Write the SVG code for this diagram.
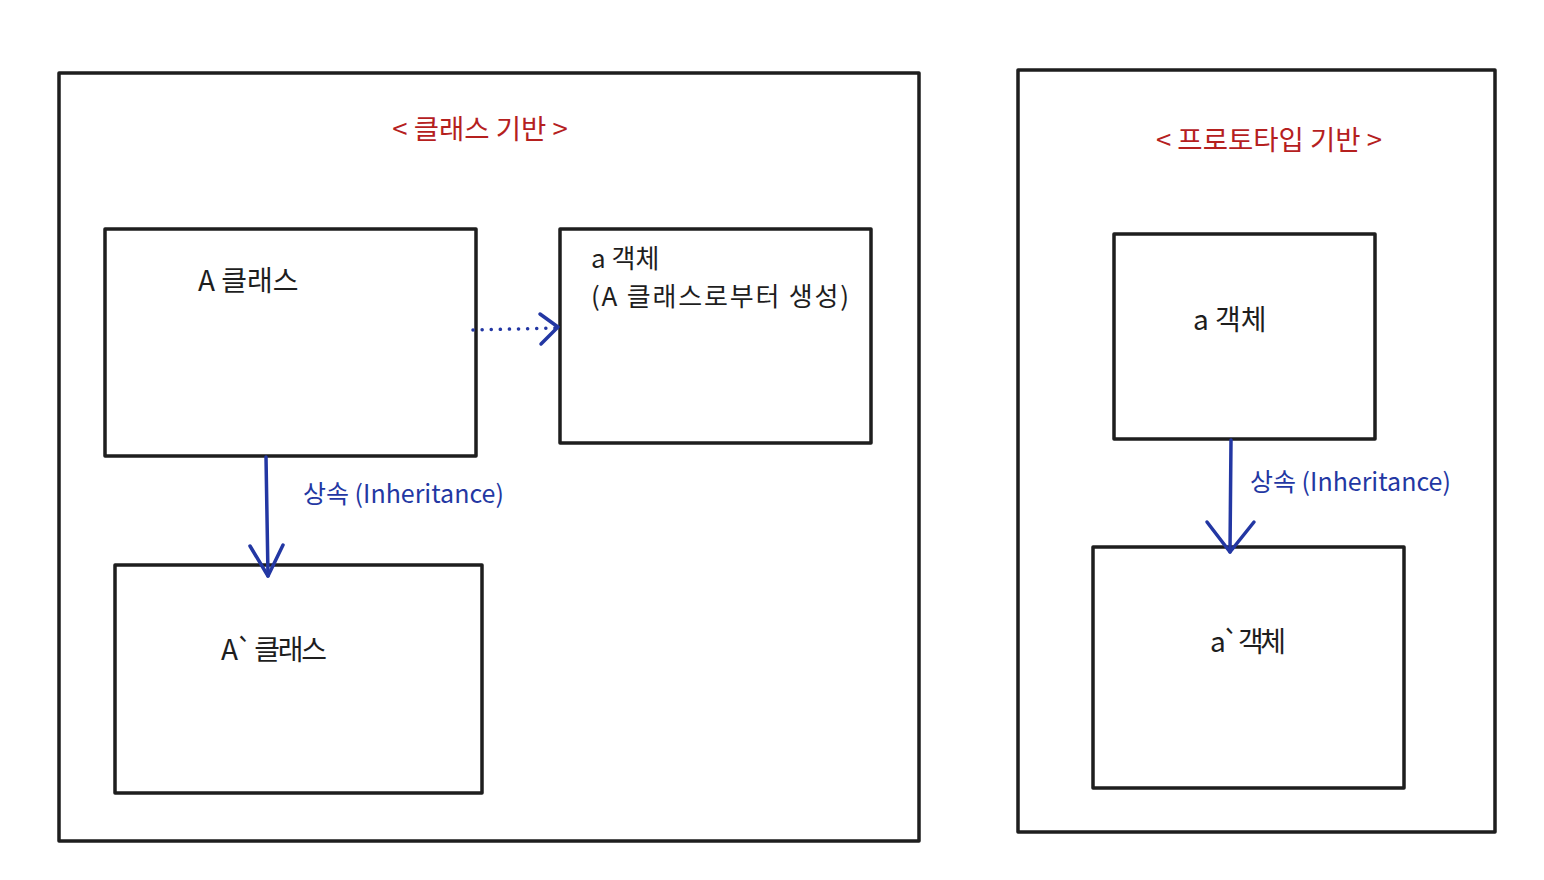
<svg xmlns="http://www.w3.org/2000/svg" width="1544" height="880" viewBox="0 0 1544 880">
<style>
.box{fill:none;stroke:#1e1e1e;stroke-width:3.5;stroke-linejoin:round}
.t{font-family:"Noto Sans CJK KR","Noto Sans",sans-serif;fill:#1e1e1e;font-size:28px}
.s{font-size:26px}
.red{fill:#b5201e;font-size:27.5px}
.blue{fill:#2337a3;font-size:25px}
.con{fill:none;stroke:#2337a3;stroke-width:3.5;stroke-linecap:round;stroke-linejoin:round}
</style>
<rect width="1544" height="880" fill="#ffffff"/>
<g id="frame-class">
<rect class="box" x="59" y="73" width="860" height="768"/>
<text class="t red" x="480" y="139" text-anchor="middle">&lt; 클래스 기반 &gt;</text>
</g>
<g id="frame-proto">
<rect class="box" x="1018" y="70" width="477" height="762"/>
<text class="t red" x="1269" y="150" text-anchor="middle">&lt; 프로토타입 기반 &gt;</text>
</g>
<g id="node-A">
<rect class="box" x="105" y="229" width="371" height="227"/>
<text class="t" x="198" y="291">A 클래스</text>
</g>
<g id="node-a">
<rect class="box" x="560" y="229" width="311" height="214"/>
<text class="t s" x="591" y="268">a 객체</text>
<text class="t s" x="591" y="306" textLength="258" lengthAdjust="spacing">(A 클래스로부터 생성)</text>
</g>
<g id="node-A2">
<rect class="box" x="115" y="565" width="367" height="228"/>
<text class="t" x="221" y="660" textLength="106" lengthAdjust="spacing">A` 클래스</text>
</g>
<g id="node-pa">
<rect class="box" x="1114" y="234" width="261" height="205"/>
<text class="t" x="1193" y="330">a 객체</text>
</g>
<g id="node-pa2">
<rect class="box" x="1093" y="547" width="311" height="241"/>
<text class="t" x="1210" y="652" textLength="76" lengthAdjust="spacing">a` 객체</text>
</g>
<g id="connectors">
<path class="con" d="M473 330 L556 328" stroke-dasharray="0.1 9" stroke-width="5.5"/>
<path class="con" d="M540 314 L558 327 L541 344"/>
<path class="con" d="M266 457 L268 576"/>
<path class="con" d="M250 546 L268 576 L283 545"/>
<text class="t blue" x="303" y="503">상속 (Inheritance)</text>
<path class="con" d="M1231 440 L1230 552"/>
<path class="con" d="M1207 522 L1230 552 L1254 522"/>
<text class="t blue" x="1250" y="491">상속 (Inheritance)</text>
</g>
</svg>
